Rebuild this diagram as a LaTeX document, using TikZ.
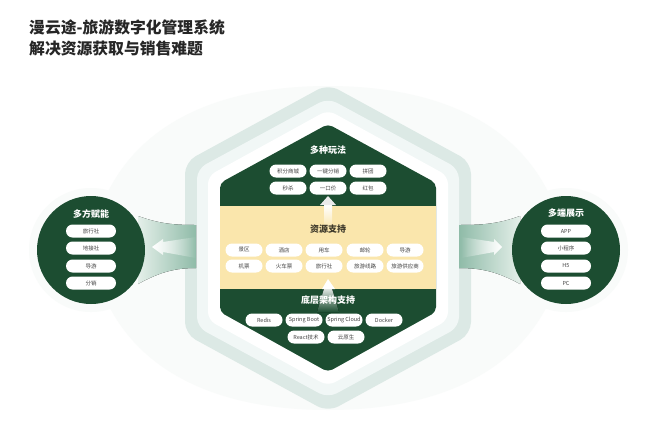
\documentclass[tikz,border=0pt]{standalone}
\usepackage{fontspec}
\usetikzlibrary{fadings}
\setmainfont{Noto Sans CJK SC}
\definecolor{darkgreen}{HTML}{1C4D31}
\definecolor{bandyellow}{HTML}{FAE6AC}
\definecolor{ringteal}{HTML}{DCE9E5}
\definecolor{ringpale}{HTML}{F1F7F6}
\definecolor{haze}{HTML}{F9FBFA}
\definecolor{funneldeep}{HTML}{8FBBA8}
\definecolor{funnelpale}{HTML}{E4EFE9}
\definecolor{pilltext}{HTML}{444444}
\begin{document}
\begin{tikzpicture}[x=1pt,y=-1pt,
pill/.style = {fill=white, rounded corners=6.5pt, minimum width=37pt, minimum height=13pt, inner sep=0pt, text=pilltext, font=\fontsize{5.5}{6}\selectfont},
sidepill/.style = {pill, minimum width=50pt},
heading/.style = {inner sep=0pt, text=white, font=\fontsize{9}{10}\selectfont\bfseries},
headline/.style = {inner sep=0pt, anchor=west, text=black!85, font=\fontsize{15.8}{17}\selectfont\bfseries},
disc/.style = {circle, fill=darkgreen, minimum size=108pt, inner sep=0pt},
halo/.style = {circle, fill=haze, minimum size=124pt, inner sep=0pt}
]
\useasboundingbox (0,0) rectangle (650,437);
\fill[white] (0,0) rectangle (650,437);
% backdrop
\fill[haze] (90,248) .. controls (110,130) and (210,86) .. (328,86)
    .. controls (446,86) and (546,130) .. (566,248)
    .. controls (546,366) and (446,410) .. (328,410)
    .. controls (210,410) and (110,366) .. (90,248) -- cycle;
\node[halo] (lefthalo) at (91,250) {};
\node[halo] (righthalo) at (566,250) {};
% hexagon rings
\fill[ringteal, rounded corners=12pt]
    (328,84) -- (471,162) -- (471,334) -- (328,412) -- (185,334) -- (185,162) -- cycle;
\fill[ringpale, rounded corners=10pt]
    (328,98) -- (459,169) -- (459,327) -- (328,398) -- (197,327) -- (197,169) -- cycle;
\fill[white, rounded corners=8pt]
    (328,110) -- (448,176) -- (448,320) -- (328,386) -- (208,320) -- (208,176) -- cycle;
% side funnels
\fill[left color=funnelpale, right color=funneldeep]
    (138,216) .. controls (160,224) and (175,225) .. (196,225) -- (196,268)
    .. controls (175,268) and (160,272) .. (138,284) -- cycle;
\fill[left color=funneldeep, right color=funnelpale]
    (520,216) .. controls (498,224) and (482,225) .. (459,225) -- (459,268)
    .. controls (482,268) and (498,272) .. (520,284) -- cycle;
\fill[white, path fading=east, fit fading]
    (152,247) -- (163,239) -- (163,242) -- (196,237) -- (196,258) -- (163,252) -- (163,255) -- cycle;
\fill[white, path fading=west, fit fading]
    (502,247) -- (494,239) -- (494,242) -- (461,237) -- (461,258) -- (494,252) -- (494,255) -- cycle;
% centre hexagon
\fill[darkgreen, rounded corners=5pt]
    (328,124) -- (436,183) -- (436,312) -- (328,372) -- (220,312) -- (220,183) -- cycle;
\fill[bandyellow] (220,206) rectangle (436,289);
% arrows through the band
\fill[top color=white, bottom color=bandyellow] (324,205) rectangle (332,228);
\fill[black!8] (328,196) -- (336,205) -- (320,205) -- cycle;
\fill[white] (328,279) -- (335,289) -- (322,289) -- cycle;
\fill[top color=white!85!darkgreen, bottom color=darkgreen] (324,289) -- (332,289) -- (339,312) -- (317,312) -- cycle;
% top block
\node[heading] (playtitle) at (328,150) {多种玩法};
\node[pill] (points) at (288,171) {积分商城};
\node[pill] (resale) at (328,171) {一键分销};
\node[pill] (group) at (368,171) {拼团};
\node[pill] (flash) at (288,188) {秒杀};
\node[pill] (fixed) at (328,188) {一口价};
\node[pill] (bonus) at (368,188) {红包};
% resource band
\node[heading, text=black!75!bandyellow] (restitle) at (328,229) {资源支持};
\node[pill] (scenic) at (244,250) {景区};
\node[pill] (hotel) at (284,250) {酒店};
\node[pill] (car) at (324,250) {用车};
\node[pill] (cruise) at (365,250) {邮轮};
\node[pill] (guide) at (405,250) {导游};
\node[pill] (flight) at (244,266) {机票};
\node[pill] (train) at (284,266) {火车票};
\node[pill] (agency) at (324,266) {旅行社};
\node[pill] (route) at (365,266) {旅游线路};
\node[pill] (supplier) at (405,266) {旅游供应商};
% bottom block
\node[heading] (stacktitle) at (328,300) {底层架构支持};
\node[pill] (redis) at (264,320) {Redis};
\node[pill] (boot) at (304,320) {Spring Boot};
\node[pill] (cloud) at (344,320) {Spring Cloud};
\node[pill] (docker) at (384,320) {Docker};
\node[pill] (react) at (306,337) {React技术};
\node[pill] (native) at (346,337) {云原生};
% left disc
\node[disc] (leftdisc) at (91,250) {};
\node[heading] (lefttitle) at (91,214) {多方赋能};
\node[sidepill] (travel) at (91,231) {旅行社};
\node[sidepill] (local) at (91,248) {地接社};
\node[sidepill] (tourguide) at (91,266) {导游};
\node[sidepill] (share) at (91,283) {分销};
% right disc
\node[disc] (rightdisc) at (566,250) {};
\node[heading] (righttitle) at (566,213) {多端展示};
\node[sidepill] (app) at (566,231) {APP};
\node[sidepill] (mini) at (566,248) {小程序};
\node[sidepill] (hfive) at (566,266) {H5};
\node[sidepill] (pc) at (566,283) {PC};
% headline
\node[headline] (lineone) at (29,27) {漫云途-旅游数字化管理系统};
\node[headline] (linetwo) at (29,48) {解决资源获取与销售难题};
\end{tikzpicture}
\end{document}
